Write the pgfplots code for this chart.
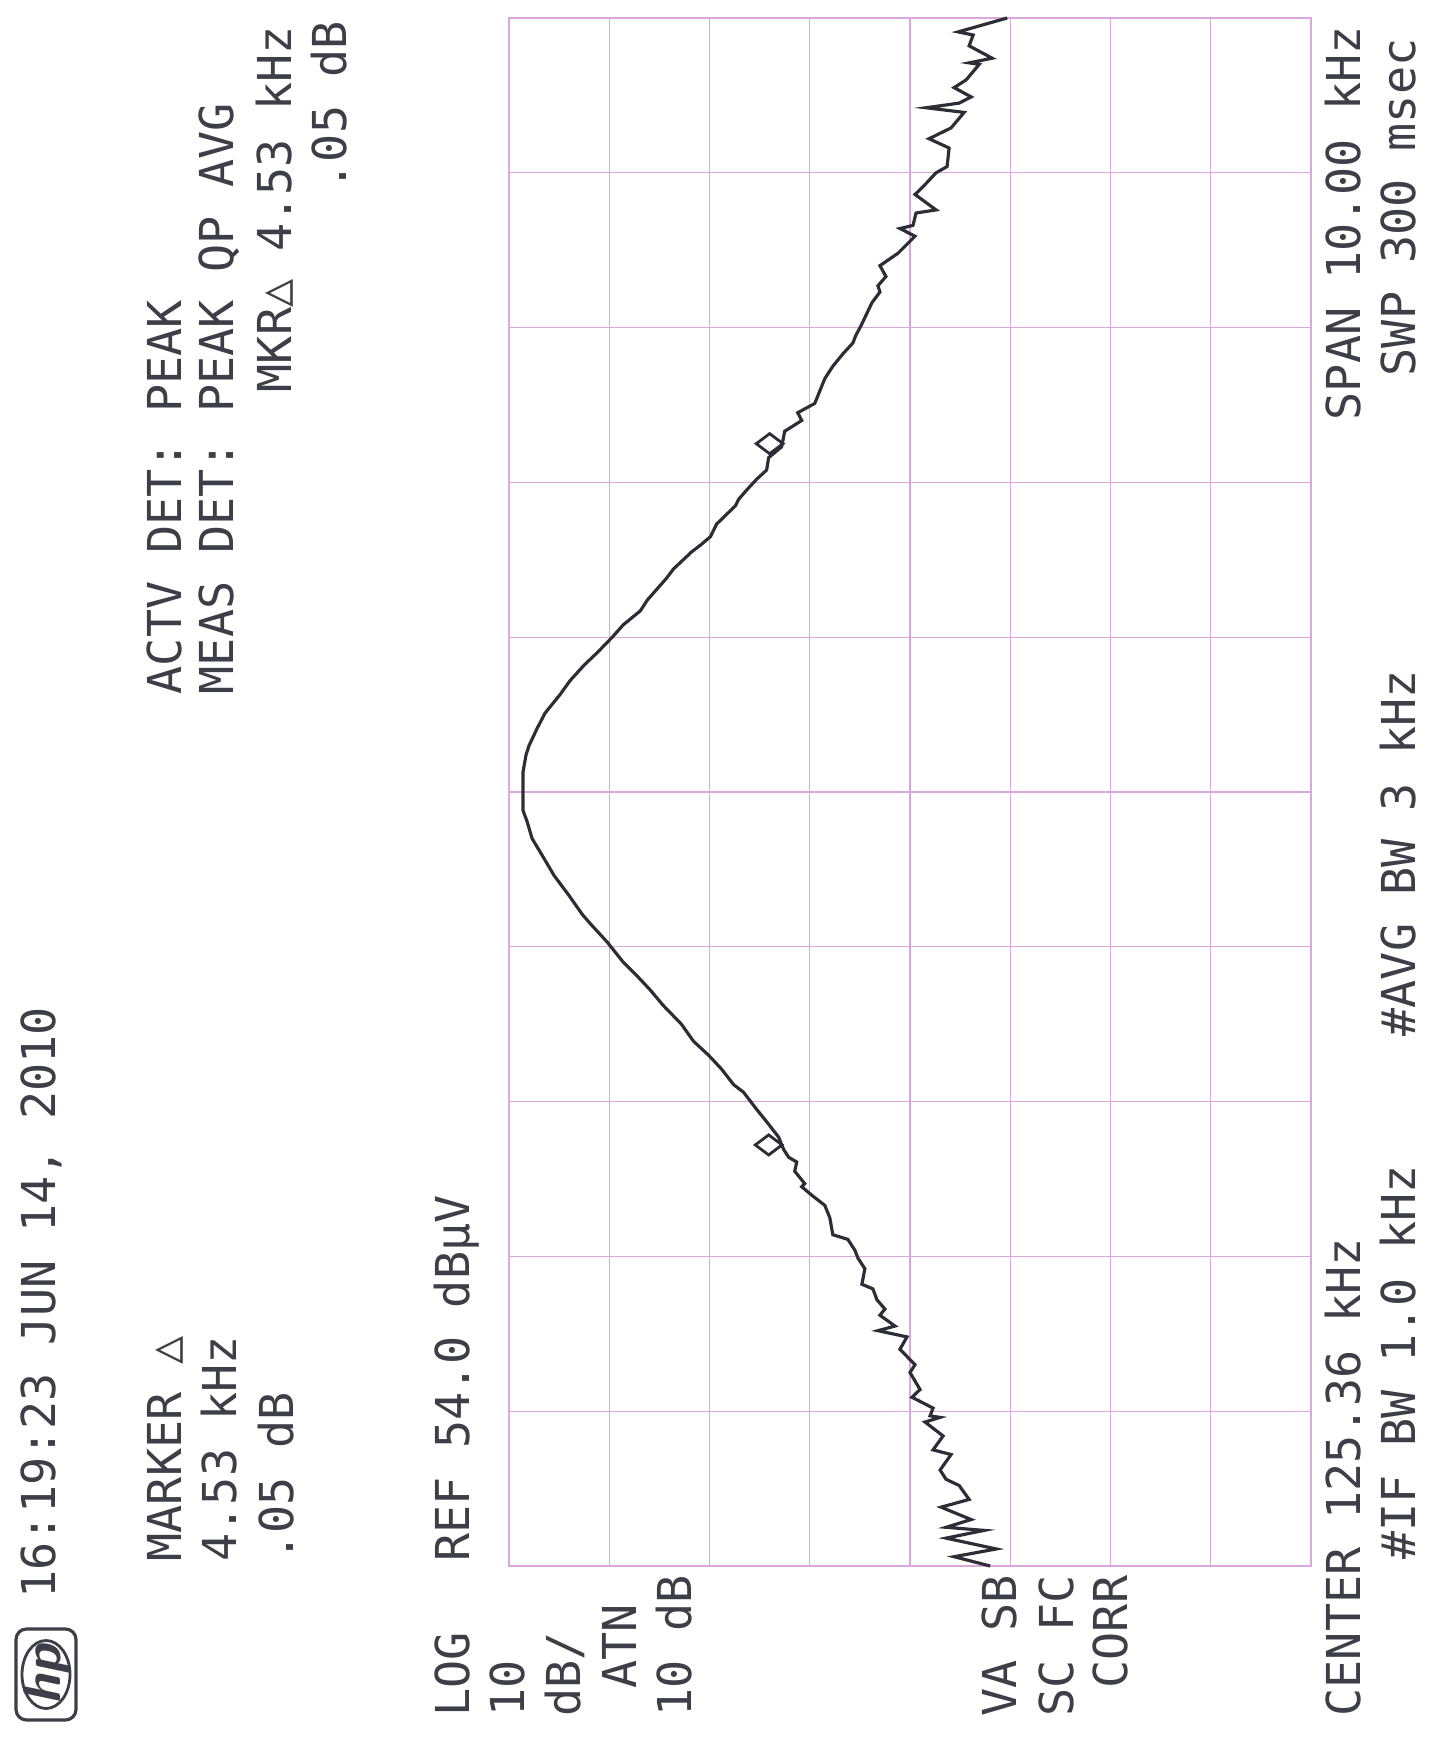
\documentclass[border=0pt]{standalone}
\usepackage{fontspec}
\usepackage{pgfplots}
\pgfplotsset{compat=1.18}
\setmonofont{DejaVu Sans Mono}
\definecolor{gridpink}{RGB}{218,168,218}
\definecolor{trace}{RGB}{45,45,55}
\definecolor{ink}{RGB}{62,62,72}

\begin{document}
\begin{tikzpicture}[x=1cm,y=1cm,
  lbl/.style={rotate=90,anchor=base west,inner sep=0pt,text=ink,
    font=\ttfamily\fontsize{13.3}{16}\selectfont}]
\path[use as bounding box] (0,0) rectangle (14.40,17.39);

\begin{axis}[
  at={(5.09cm,1.73cm)}, anchor=south west,
  width=8.02cm, height=15.48cm, scale only axis,
  x dir=reverse,
  xmin=-26, xmax=54, ymin=-5, ymax=5,
  xtick={-26,-16,...,54}, ytick={-5,-4,...,5},
  xticklabels={}, yticklabels={},
  major tick length=0pt,
  grid=major,
  major grid style={gridpink, line width=0.3pt},
  axis line style={gridpink, line width=0.3pt},
  clip=false,
]
% trace: amplitude (dBuV) vs frequency offset from centre (kHz)
\addplot[trace, line width=0.9pt] coordinates {
(6.0,-5.00) (9.6,-4.94) (5.4,-4.89) (10.4,-4.82) (6.6,-4.77) (10.4,-4.75)
(7.9,-4.70) (10.9,-4.62) (8.1,-4.57) (9.1,-4.48) (10.4,-4.44) (11.0,-4.38)
(9.9,-4.28) (11.7,-4.25) (10.7,-4.16) (12.5,-4.07) (11.0,-4.04) (12.0,-4.03)
(11.7,-3.98) (13.8,-3.91) (13.0,-3.86) (14.0,-3.75) (13.5,-3.70) (15.0,-3.60)
(14.3,-3.52) (17.2,-3.48) (15.5,-3.45) (17.0,-3.38) (16.5,-3.34) (17.3,-3.28)
(17.7,-3.21) (18.8,-3.18) (18.5,-3.08) (19.2,-3.01) (19.5,-2.96) (20.2,-2.89)
(21.7,-2.86) (22.0,-2.75) (22.5,-2.67) (23.7,-2.61) (24.8,-2.55) (24.5,-2.53)
(25.5,-2.45) (25.3,-2.39) (26.1,-2.36) (26.6,-2.31) (27.1,-2.23) (28.3,-2.13)
(29.3,-2.05) (30.6,-1.94) (31.6,-1.89) (32.8,-1.79) (34.1,-1.70) (35.6,-1.61)
(36.8,-1.50) (38.6,-1.38) (39.9,-1.28) (41.2,-1.19) (42.6,-1.10) (44.2,-0.97)
(45.9,-0.85) (46.7,-0.79) (48.0,-0.67) (49.5,-0.54) (50.5,-0.43) (51.7,-0.30)
(52.2,-0.19) (52.6,-0.12) (52.6,0.04) (52.6,0.13) (52.3,0.24) (52.0,0.30)
(51.2,0.41) (50.4,0.51) (48.9,0.63) (47.9,0.72) (46.5,0.82) (45.2,0.90)
(43.7,1.00) (42.6,1.08) (40.9,1.17) (40.2,1.24) (38.3,1.38) (37.6,1.44)
(35.8,1.55) (34.8,1.60) (33.9,1.65) (33.3,1.73) (31.4,1.85) (31.1,1.89)
(30.3,1.95) (29.3,2.02) (28.3,2.08) (28.1,2.16) (26.8,2.23) (26.5,2.33)
(24.8,2.40) (25.2,2.45) (23.5,2.51) (22.5,2.67) (21.7,2.75) (20.7,2.83)
(19.7,2.90) (19.4,2.95) (18.9,3.01) (17.8,3.16) (17.0,3.23) (17.2,3.27)
(16.4,3.33) (17.0,3.40) (15.2,3.48) (13.5,3.59) (15.0,3.64) (13.7,3.66)
(13.4,3.74) (11.4,3.76) (13.5,3.86) (12.7,3.91) (11.4,4.00) (10.3,4.04)
(10.1,4.16) (12.1,4.22) (9.9,4.29) (8.6,4.39) (12.4,4.42) (9.1,4.45)
(7.9,4.49) (9.6,4.55) (8.4,4.60) (7.1,4.70) (8.1,4.71) (5.8,4.74)
(8.1,4.82) (7.7,4.89) (9.2,4.91) (4.3,5.00)
};
% delta markers
\addplot[trace, only marks, mark=diamond, mark size=3.8pt,
  mark options={rotate=90, line width=0.8pt, fill=white}]
  coordinates {(28.0,2.25) (28.1,-2.28)};
\end{axis}

% hp logo
\draw[ink, line width=0.9pt, rounded corners=3pt] (0.16,0.19) rectangle (0.76,1.10);
\draw[ink, line width=0.8pt] (0.46,0.645) ellipse (0.24 and 0.34);
\node[rotate=90, text=ink, inner sep=0pt, font=\sffamily\bfseries\itshape\fontsize{15}{15}\selectfont] at (0.47,0.645) {hp};

% left annotations
\node[lbl] at (0.55,1.40) {16:19:23 JUN 14, 2010};
\node[lbl] at (1.81,1.77) {MARKER △};
\node[lbl] at (2.36,1.77) {4.53 kHz};
\node[lbl] at (2.93,1.77) {.05 dB};
\node[lbl] at (4.69,1.77) {REF 54.0 dBµV};
\node[lbl] at (4.69,0.22) {LOG};
\node[lbl] at (5.24,0.22) {10};
\node[lbl] at (5.80,0.22) {dB/};
\node[lbl] at (6.36,0.50) {ATN};
\node[lbl] at (6.91,0.22) {10 dB};

% top right annotations
\node[lbl] at (1.81,10.44) {ACTV DET: PEAK};
\node[lbl] at (2.33,10.44) {MEAS DET: PEAK QP AVG};
\node[lbl] at (2.91,13.46) {MKR△ 4.53 kHz};
\node[lbl] at (3.46,15.48) {.05 dB};

% bottom annotations
\node[lbl] at (10.16,0.22) {VA SB};
\node[lbl] at (10.73,0.22) {SC FC};
\node[lbl] at (11.27,0.50) {CORR};
\node[lbl] at (13.60,0.22) {CENTER 125.36 kHz};
\node[lbl] at (14.15,1.79) {\#IF BW 1.0 kHz};
\node[lbl] at (14.15,7.02) {\#AVG BW 3 kHz};
\node[lbl] at (13.60,13.18) {SPAN 10.00 kHz};
\node[lbl] at (14.15,13.62) {SWP 300 msec};
\end{tikzpicture}
\end{document}
